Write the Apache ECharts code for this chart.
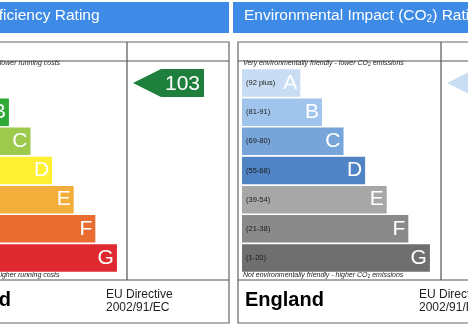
<!DOCTYPE html>
<html>
<head>
<meta charset="utf-8">
<script src="https://cdn.jsdelivr.net/npm/echarts@6/dist/echarts.min.js"></script>
<style>
  html, body { margin: 0; padding: 0; background: #fff; }
  #chart { width: 468px; height: 328px; }
</style>
</head>
<body>
<div id="chart"></div>
<script>
// rating bands, top to bottom
var ratings = ['A', 'B', 'C', 'D', 'E', 'F', 'G'];
var bandRanges = ['(92 plus)', '(81-91)', '(69-80)', '(55-68)', '(39-54)', '(21-38)', '(1-20)'];
var bandMin = [92, 81, 69, 55, 39, 21, 1];
// relative bar lengths of the band scale
var barLength = [27, 37, 47, 57, 67, 77, 87];
var energyColors = ['#13803f', '#2fa836', '#9dc94c', '#fff033', '#f3ae3b', '#e96c31', '#df2a32'];
var co2Colors = ['#c8ddf3', '#a1c4ec', '#77a5d9', '#5084c4', '#a7a7a7', '#8a8a8a', '#6f6f6f'];
var currentEnergy = 103;
var currentCO2 = 104;

function bandOf(v) {
  for (var i = 0; i < bandMin.length; i++) {
    if (v >= bandMin[i]) return ratings[i];
  }
  return ratings[ratings.length - 1];
}

var chart = echarts.init(document.getElementById('chart'), null, { renderer: 'canvas' });

var rowTop = 68.4, rowHeight = 204.2;
var arrowPath = 'path://M0,14 L28,0 L71,0 L71,28 L28,28 Z';

function grid(left, width) {
  return { left: left, top: rowTop, width: width, height: rowHeight, containLabel: false, outerBoundsMode: 'none' };
}
function valueAxis(idx, max) {
  return { type: 'value', gridIndex: idx, min: 0, max: max, show: false };
}
function catAxis(idx, withLabels) {
  return {
    type: 'category', gridIndex: idx, data: ratings, inverse: true,
    show: withLabels, z: 10,
    axisLine: { show: false }, axisTick: { show: false }, splitLine: { show: false },
    axisLabel: {
      show: withLabels, inside: true, margin: 4,
      fontSize: 7.5, color: '#1a1a1a', fontFamily: 'Liberation Sans, Arial',
      formatter: function (v, i) { return bandRanges[i]; }
    }
  };
}
function bars(idx, colors) {
  return {
    type: 'bar', xAxisIndex: idx, yAxisIndex: idx, barWidth: 27.5,
    data: barLength.map(function (v, i) { return { value: v, itemStyle: { color: colors[i] } }; }),
    label: {
      show: true, position: 'insideRight', distance: 3, formatter: '{b}',
      color: '#fff', fontSize: 21, fontFamily: 'Liberation Sans, Arial'
    }
  };
}
function arrow(idx, value, color) {
  return {
    type: 'scatter', xAxisIndex: idx, yAxisIndex: idx,
    data: [[0.5, bandOf(value)]],
    symbol: arrowPath, symbolSize: [71, 28], symbolOffset: [-9.5, 0],
    itemStyle: { color: color, opacity: 1 },
    label: {
      show: true, position: 'inside', offset: [14, 1], formatter: String(value),
      color: '#fff', fontSize: 21, fontFamily: 'Liberation Sans, Arial'
    }
  };
}

var lineStyle = { stroke: '#555', lineWidth: 1.2 };
function line(x1, y1, x2, y2) {
  return { type: 'line', silent: true, shape: { x1: x1, y1: y1, x2: x2, y2: y2 }, style: lineStyle };
}
function txt(x, y, text, font, fill, extra) {
  var s = { x: x, y: y, text: text, font: font, fill: fill, verticalAlign: 'middle', align: 'left' };
  for (var k in extra) s[k] = extra[k];
  return { type: 'text', silent: true, style: s };
}

// panel frames and texts (left panel starts off-canvas)
function panel(x0, x1, divX, title, topNote, bottomNote) {
  return [
    { type: 'rect', silent: true, shape: { x: x0 - 5, y: 2, width: x1 - x0 + 5, height: 31 }, style: { fill: '#3d8be6' } },
    txt(x0 + 6, 16, title, '15.5px "Liberation Sans", Arial', '#fff', { rich: { s: { fontSize: 10, fill: '#fff', padding: [7, 0, 0, 0] } } }),
    { type: 'rect', silent: true, shape: { x: x0, y: 42, width: x1 - x0, height: 281 }, style: { fill: 'none', stroke: '#666', lineWidth: 1.2 } },
    line(x0, 61, x1, 61),
    line(divX, 42, divX, 280),
    line(x0, 280, x1, 280),
    txt(x0 + 5, 63.5, topNote, 'italic 7px "Liberation Sans", Arial', '#222', { rich: { s: { fontSize: 5, fill: '#222', padding: [3, 0, 0, 0] } } }),
    txt(x0 + 5, 275.5, bottomNote, 'italic 7px "Liberation Sans", Arial', '#222', { rich: { s: { fontSize: 5, fill: '#222', padding: [3, 0, 0, 0] } } }),
    txt(x0 + 7, 300, 'England', 'bold 20px "Liberation Sans", Arial', '#000'),
    txt(x0 + 181, 301.2, 'EU Directive\n2002/91/EC', '12px "Liberation Sans", Arial', '#222', { lineHeight: 13 })
  ];
}

var graphics = [].concat(
  panel(-75, 229, 127, 'Energy Efficiency Rating',
    'Very energy efficient - lower running costs', 'Not energy efficient - higher running costs'),
  panel(238, 545, 441, 'Environmental Impact (CO{s|2}) Rating',
    'Very environmentally friendly - lower CO{s|2} emissions', 'Not environmentally friendly - higher CO{s|2} emissions')
);

chart.setOption({
  animation: false,
  backgroundColor: '#fff',
  grid: [grid(-71, 216), grid(127, 102), grid(242, 216), grid(441, 102)],
  xAxis: [valueAxis(0, 100), valueAxis(1, 1), valueAxis(2, 100), valueAxis(3, 1)],
  yAxis: [catAxis(0, true), catAxis(1, false), catAxis(2, true), catAxis(3, false)],
  series: [
    bars(0, energyColors),
    arrow(1, currentEnergy, '#1f7f3d'),
    bars(2, co2Colors),
    arrow(3, currentCO2, '#c8ddf3')
  ],
  graphic: graphics
});
</script>
</body>
</html>
